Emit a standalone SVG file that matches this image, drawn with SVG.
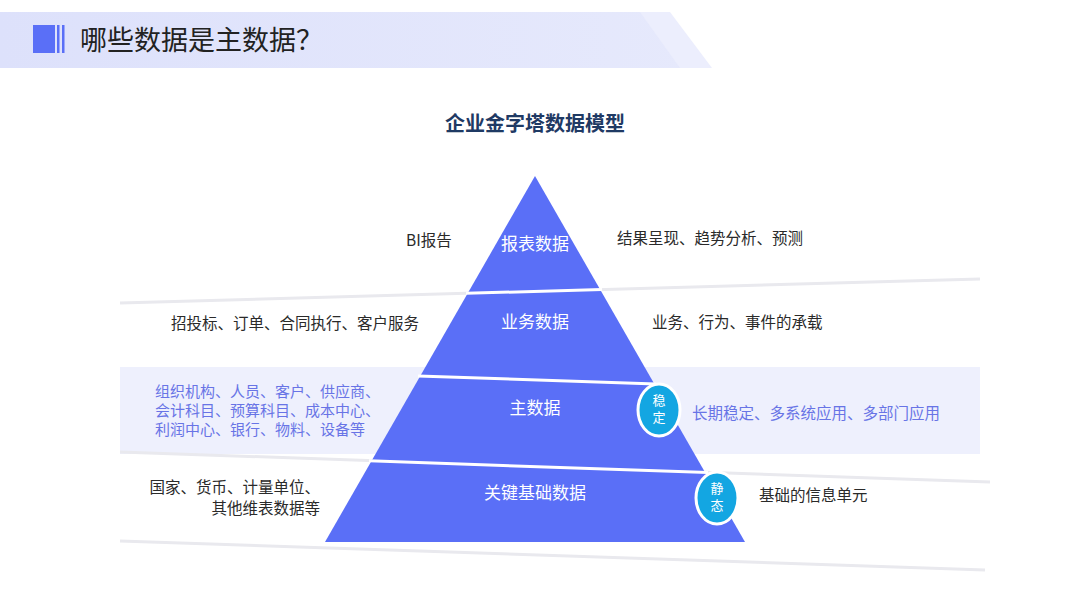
<svg xmlns="http://www.w3.org/2000/svg" width="1080" height="608" viewBox="0 0 1080 608">
<defs>
<linearGradient id="hdr" x1="0" y1="0" x2="1" y2="0">
<stop offset="0" stop-color="#dde1fb"/>
<stop offset="1" stop-color="#e6e9fc"/>
</linearGradient>
<style>
text{font-family:"Noto Sans CJK SC","Noto Sans",sans-serif;}
.lbl{font-size:15.5px;fill:#2a2a2a;}
.blu{font-size:15.5px;fill:#6874e6;}
.bls{font-size:15px;fill:#6874e6;}
.pyr{font-size:17px;fill:#ffffff;text-anchor:middle;}
.cir{font-size:13px;fill:#ffffff;text-anchor:middle;}
.gl{stroke:#e9e9ee;stroke-width:3;fill:none;}
.wl{stroke:#ffffff;stroke-width:3;fill:none;}
.badge{fill:#13a6e2;stroke:#ffffff;stroke-width:3;}
</style>
</defs>
<rect width="1080" height="608" fill="#ffffff"/>
<g id="header">
<polygon points="0,12 660,12 694,68 0,68" fill="url(#hdr)"/>
<polygon points="640,12 670,12 712,68 680,68" fill="#eceefd"/>
<rect x="33" y="25" width="22" height="28" fill="#5a6ff7"/>
<rect x="57" y="25" width="2.5" height="28" fill="#5a6ff7"/>
<rect x="62" y="25" width="2.5" height="28" fill="#5a6ff7"/>
<text x="80" y="50" font-size="27" fill="#222222">哪些数据是主数据？</text>
</g>
<g id="title">
<text x="535" y="131" font-size="20" font-weight="bold" fill="#1f3a64" text-anchor="middle">企业金字塔数据模型</text>
</g>
<g id="background">
<rect x="120" y="367" width="860" height="87" fill="#eef0fd"/>
<line class="gl" x1="120" y1="303" x2="980" y2="279"/>
<line class="gl" x1="120" y1="452" x2="990" y2="482"/>
<line class="gl" x1="120" y1="541" x2="985" y2="570"/>
</g>
<g id="pyramid">
<polygon points="535,176 745,542 325,542" fill="#5a6ff7"/>
</g>
<g id="connectors">
<line class="wl" x1="466" y1="293.3" x2="602" y2="289.5"/>
<line class="wl" x1="418" y1="376" x2="656" y2="384"/>
<line class="wl" x1="369" y1="460.8" x2="708" y2="472.6"/>
</g>
<g id="node-report">
<text class="pyr" x="535" y="249.5">报表数据</text>
<text class="lbl" x="406" y="245.5">BI报告</text>
<text class="lbl" x="617" y="243.5">结果呈现、趋势分析、预测</text>
</g>
<g id="node-business">
<text class="pyr" x="535" y="327.5">业务数据</text>
<text class="lbl" x="171" y="328.5">招投标、订单、合同执行、客户服务</text>
<text class="lbl" x="652" y="327.5">业务、行为、事件的承载</text>
</g>
<g id="node-master">
<text class="pyr" x="535" y="413.5">主数据</text>
<text class="bls" x="155" y="397">组织机构、人员、客户、供应商、</text>
<text class="bls" x="155" y="416">会计科目、预算科目、成本中心、</text>
<text class="bls" x="155" y="435">利润中心、银行、物料、设备等</text>
<ellipse class="badge" cx="659" cy="410" rx="21" ry="26"/>
<text class="cir" x="659" y="405">稳</text>
<text class="cir" x="659" y="422">定</text>
<text class="blu" x="692" y="418.5">长期稳定、多系统应用、多部门应用</text>
</g>
<g id="node-key">
<text class="pyr" x="535" y="498.5">关键基础数据</text>
<text class="lbl" x="320" y="493" text-anchor="end">国家、货币、计量单位、</text>
<text class="lbl" x="320" y="513.5" text-anchor="end">其他维表数据等</text>
<ellipse class="badge" cx="717" cy="498" rx="21" ry="26"/>
<text class="cir" x="717" y="493">静</text>
<text class="cir" x="717" y="510">态</text>
<text class="lbl" x="759" y="500.5">基础的信息单元</text>
</g>
</svg>
